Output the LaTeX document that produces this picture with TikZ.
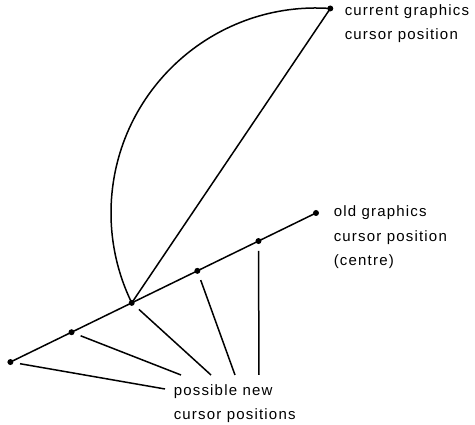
\documentclass[tikz,border=0pt]{standalone}
\usepackage{fontspec}
\newfontfamily\lblfont{Liberation Sans}[LetterSpace=8]
\usetikzlibrary{calc}

\begin{document}
\begin{tikzpicture}[
    x=1pt, y=1pt,
    line width=1.5pt,
    dot/.style={circle, fill, inner sep=0pt, minimum size=6pt},
    ptr/.style={line width=1.5pt, shorten <=6pt},
    lbl/.style={anchor=base west, align=left, inner sep=0pt, font={\lblfont\fontsize{15}{24.5}\selectfont}},
]
    \useasboundingbox (0,0) rectangle (475,425);

    % Centre and current cursor
    \node[dot] (old) at (316,212) {};
    \node[dot] (cur) at ($(old)+(86:205)$) {};

    % Possible new positions along the line
    \foreach \r [count=\i] in {64,132,205,272,340}
        \node[dot] (p\i) at ($(old)+(206:\r)$) {};

    \draw (old.center) -- (p5.center);
    \draw (p3.center) -- (cur.center);
    \draw (cur.center) arc[start angle=86, end angle=206, radius=205];

    % Labels
    \node[lbl] (curlbl) at (344,385) {current graphics\\cursor position};
    \node[lbl] (oldlbl) at (333,159) {old graphics\\cursor position\\(centre)};
    \node[lbl] (newlbl) at (173,5) {possible new\\cursor positions};

    % Pointers
    \coordinate (e1) at (259,50);
    \coordinate (e2) at (235,50);
    \coordinate (e3) at (211,50);
    \coordinate (e4) at (181,50);
    \coordinate (e5) at (165,36);
    \foreach \i in {1,...,5}
        \draw[ptr] (p\i) -- (e\i);
\end{tikzpicture}
\end{document}
